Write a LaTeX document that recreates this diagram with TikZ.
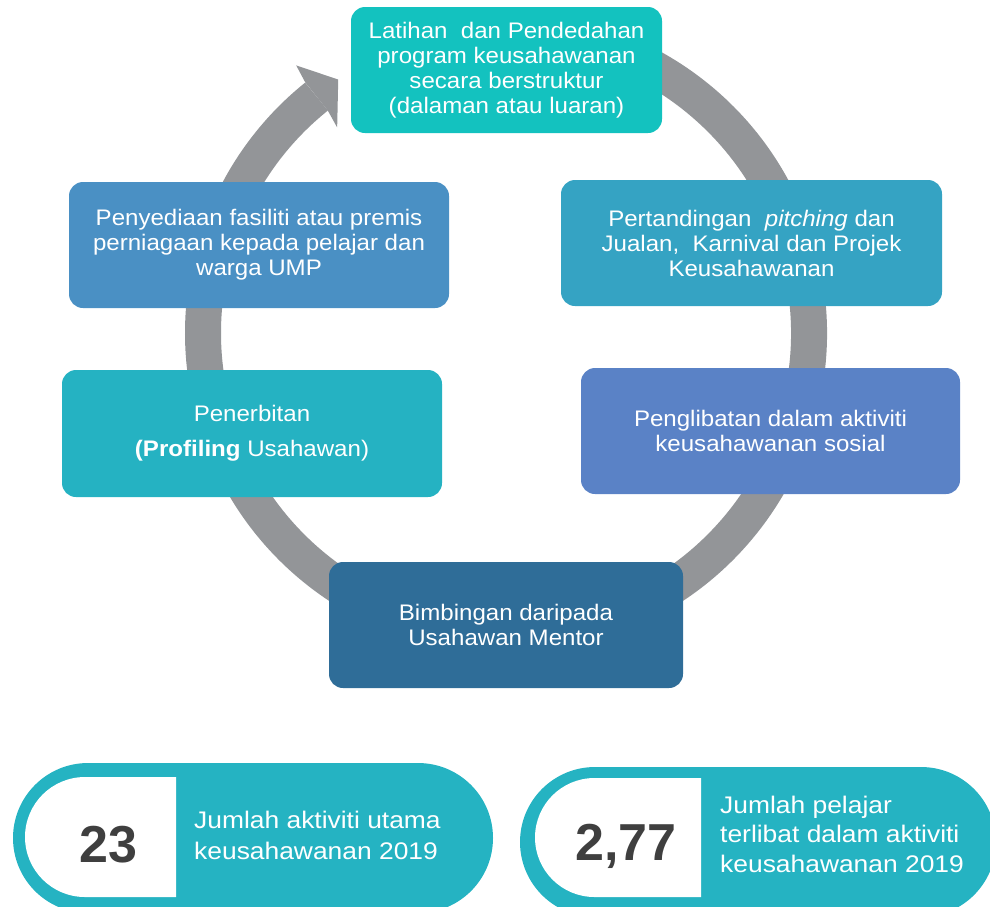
\documentclass[tikz,border=0pt]{standalone}
\usepackage{fontspec}
\setmainfont{Liberation Sans}
\newfontfamily\boxfont[FakeStretch=1.07]{Liberation Sans}
\newfontfamily\pillfont[FakeStretch=1.1]{Liberation Sans}
\usetikzlibrary{calc}
\definecolor{topc}{HTML}{13C2BF}
\definecolor{rac}{HTML}{35A3C3}
\definecolor{lac}{HTML}{4A90C4}
\definecolor{lbc}{HTML}{25B2C2}
\definecolor{rbc}{HTML}{5A82C6}
\definecolor{botc}{HTML}{2F6D98}
\definecolor{pillc}{HTML}{25B3C2}
\definecolor{ringc}{HTML}{939598}
\definecolor{numc}{HTML}{3F3F3F}
\tikzset{
  stepbox/.style={rounded corners=14pt, inner sep=0pt, align=center, text=white,
    font=\boxfont\fontsize{22.5}{25}\selectfont},
  ring/.style={draw=ringc, line width=36pt},
  numtext/.style={font=\fontsize{52}{56}\selectfont\bfseries, text=numc, inner sep=0pt},
  pilltext/.style={font=\pillfont\fontsize{24}{30}\selectfont, text=white, inner sep=0pt, anchor=base west}
}
\begin{document}
\begin{tikzpicture}[x=1pt,y=1pt]
\useasboundingbox (0,0) rectangle (990,-906);
\clip (0,0) rectangle (990,-906);
\coordinate (c) at (506,-333);
% ring
\draw[ring] ($(c)+(100:303)$) arc[start angle=100, end angle=-231.3, radius=303];
\fill[ringc] ($(c)+(128.7:321)$) -- ($(c)+(128.1:340)$) -- ($(c)+(123.5:304)$)
   -- ($(c)+(129.4:266)$) -- ($(c)+(128.7:285)$) -- cycle;
% boxes
\node[stepbox, fill=topc, minimum width=311pt, minimum height=126pt] (top) at (506.5,-70)
  {Latihan\ \ dan Pendedahan\\program keusahawanan\\secara berstruktur\\(dalaman atau luaran)};
\node[stepbox, fill=rac, minimum width=381pt, minimum height=126pt] (ra) at (751.5,-243)
  {Pertandingan\ \ \textit{pitching} dan\\Jualan,\ \ Karnival dan Projek\\Keusahawanan};
\node[stepbox, fill=lac, minimum width=380pt, minimum height=126pt] (la) at (259,-245)
  {Penyediaan fasiliti atau premis\\perniagaan kepada pelajar dan\\warga UMP};
\node[stepbox, fill=lbc, minimum width=380pt, minimum height=127pt] (lb) at (252,-433.5)
  {Penerbitan\\[10pt]\textbf{(Profiling} Usahawan)};
\node[stepbox, fill=rbc, minimum width=379pt, minimum height=126pt] (rb) at (770.5,-431)
  {Penglibatan dalam aktiviti\\keusahawanan sosial};
\node[stepbox, fill=botc, minimum width=354pt, minimum height=126pt] (bot) at (506,-625)
  {Bimbingan daripada\\Usahawan Mentor};
% pills
\fill[pillc, rounded corners=75pt] (13,-763) rectangle (493,-913);
\fill[white] (176,-777) -- (85,-777) arc[start angle=90, end angle=270, radius=60] -- (176,-897) -- cycle;
\fill[pillc, rounded corners=75pt] (520,-767) rectangle (996,-917);
\fill[white] (701,-778) -- (594.5,-778) arc[start angle=90, end angle=270, radius=59.5] -- (701,-897) -- cycle;
\node[numtext, anchor=base] (n1) at (108.5,-862) {23};
\node[numtext, anchor=base] (n2) at (626,-860) {2,77};
\node[pilltext] (t1a) at (194,-828) {Jumlah aktiviti utama};
\node[pilltext] (t1b) at (194,-859) {keusahawanan 2019};
\node[pilltext] (t2a) at (720,-813) {Jumlah pelajar};
\node[pilltext] (t2b) at (720,-842) {terlibat dalam aktiviti};
\node[pilltext] (t2c) at (720,-872) {keusahawanan 2019};
\end{tikzpicture}
\end{document}
